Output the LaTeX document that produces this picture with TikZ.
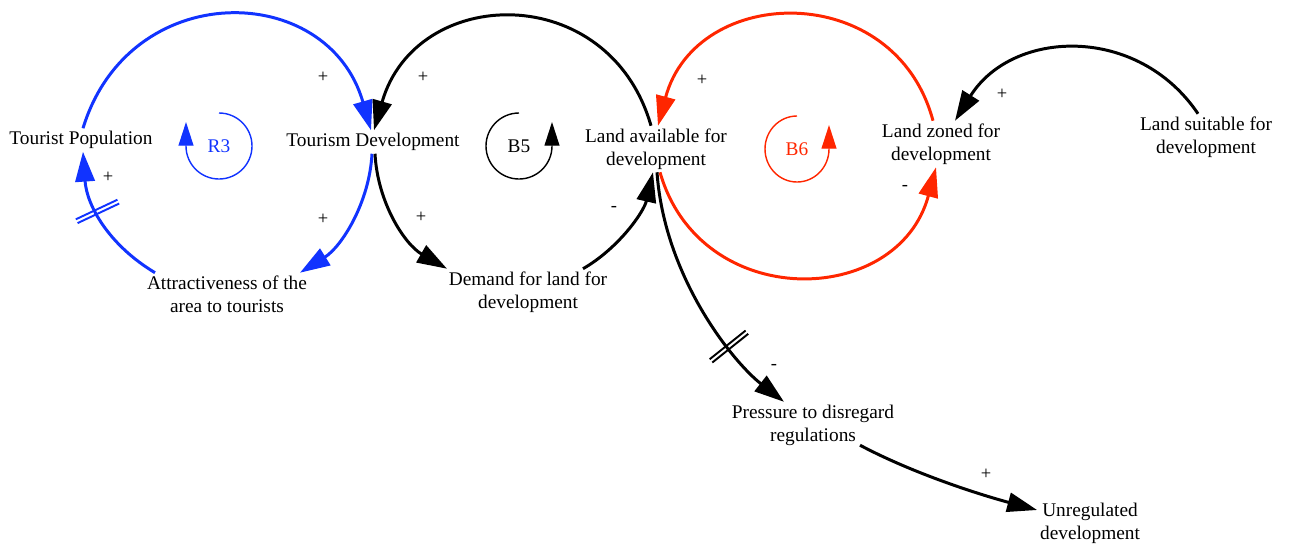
\documentclass[tikz,border=0pt]{standalone}
\usepackage{fontspec}
\setmainfont{Liberation Serif}
\usetikzlibrary{arrows.meta,calc,decorations.markings}

\definecolor{loopblue}{RGB}{17,51,255}
\definecolor{loopred}{RGB}{255,38,0}

\tikzset{
  var/.style={align=center, inner sep=1.5pt, font=\fontsize{11}{13}\selectfont},
  link/.style={line width=1.7pt, -{Triangle[length=17pt,width=11pt]}},
  loopsym/.style={line width=0.8pt, -{Triangle[length=13.5pt,width=8.5pt]}},
  looplbl/.style={inner sep=0pt, font=\fontsize{11}{13}\selectfont},
  sign/.style={inner sep=0pt, font=\fontsize{10.5}{12}\selectfont},
  delay/.style 2 args={postaction={decorate,decoration={markings,
      mark=at position #1 with {\draw[-,line width=1.1pt,#2] (-2.1,-23)--(-2.1,23) (2.1,-23)--(2.1,23);}}}}
}

\begin{document}
\begin{tikzpicture}[x=0.02cm,y=0.02cm]
\useasboundingbox (0,0) rectangle (1294,-545);

% variables
\node[var] (tp)  at (81,-140)   {Tourist Population};
\node[var] (td)  at (373,-142)  {Tourism Development};
\node[var] (la)  at (656,-149)  {Land available for\\development};
\node[var] (lz)  at (941,-144)  {Land zoned for\\development};
\node[var] (ls)  at (1206,-137) {Land suitable for\\development};
\node[var] (att) at (227,-294)  {Attractiveness of the\\area to tourists};
\node[var] (dem) at (528,-292)  {Demand for land for\\development};
\node[var] (pr)  at (813,-425)  {Pressure to disregard\\regulations};
\node[var] (un)  at (1090,-523) {Unregulated\\development};

% loop R3 (blue)
\draw[link,loopblue] ($(tp.north)+(2,0)$) .. controls +(73:158) and +(106:156) .. ($(td.north)+(-2,0)$);
\draw[link,loopblue] ($(td.south)+(-1,0)$) .. controls +(-93:49) and +(32:49) .. ($(att.north)+(73,0)$);
\draw[link,loopblue,delay={0.58}{loopblue}] ($(att.north)+(-72,0)$) .. controls +(149:54) and +(-86:54) .. ($(tp.south)+(2,0)$);

% loop B5 (black)
\draw[link] ($(la.north)+(-5,0)$) .. controls +(106:152) and +(74:152) .. ($(td.north)+(1,0)$);
\draw[link] ($(td.south)+(2,0)$) .. controls +(-87:49) and +(150:49) .. ($(dem.north)+(-81,0)$);
\draw[link] ($(dem.north)+(55,0)$) .. controls +(30:41) and +(-103:41) .. ($(la.south)+(-3,0)$);

% loop B6 (red)
\draw[link,loopred] ($(lz.north)+(-8,0)$) .. controls +(105:147) and +(75:147) .. ($(la.north)+(2,0)$);
\draw[link,loopred] ($(la.south)+(4,0)$) .. controls +(-74:146) and +(-105:146) .. ($(lz.south)+(-5,0)$);

% other links
\draw[link] ($(ls.north)+(-8,0)$) .. controls +(124:108) and +(58:108) .. ($(lz.north)+(14,0)$);
\draw[link,delay={0.71}{black}] ($(la.south)+(1,0)$) .. controls +(-86:105) and +(142:65) .. ($(pr.north)+(-29,0)$);
\draw[link] ($(pr.south)+(47,3)$) .. controls +(-28:60) and +(165:60) .. ($(un.west)+(0,13)$);

% polarities
\node[sign] (s1)  at (323,-77)  {+};
\node[sign] (s2)  at (323,-219) {+};
\node[sign] (s3)  at (108,-177) {+};
\node[sign] (s4)  at (423,-77)  {+};
\node[sign] (s5)  at (421,-217) {+};
\node[sign] (s6)  at (614,-209) {-};
\node[sign] (s7)  at (702,-80)  {+};
\node[sign] (s8)  at (905,-188) {-};
\node[sign] (s9)  at (1002,-94) {+};
\node[sign] (s10) at (774,-367) {-};
\node[sign] (s11) at (986,-474) {+};

% loop identifiers
\node[looplbl,text=loopblue] (r3) at (219,-146) {R3};
\draw[loopsym,loopblue] (r3.center) ++(90:33) arc[start angle=90,end angle=-180,radius=33] -- ++(0,24);
\node[looplbl] (b5) at (519,-146) {B5};
\draw[loopsym] (b5.center) ++(90:33) arc[start angle=90,end angle=360,radius=33] -- ++(0,24);
\node[looplbl,text=loopred] (b6) at (797,-149) {B6};
\draw[loopsym,loopred] (b6.center) ++(0,33) arc[start angle=90,end angle=360,x radius=32,y radius=33] -- ++(0,24);
\end{tikzpicture}
\end{document}
